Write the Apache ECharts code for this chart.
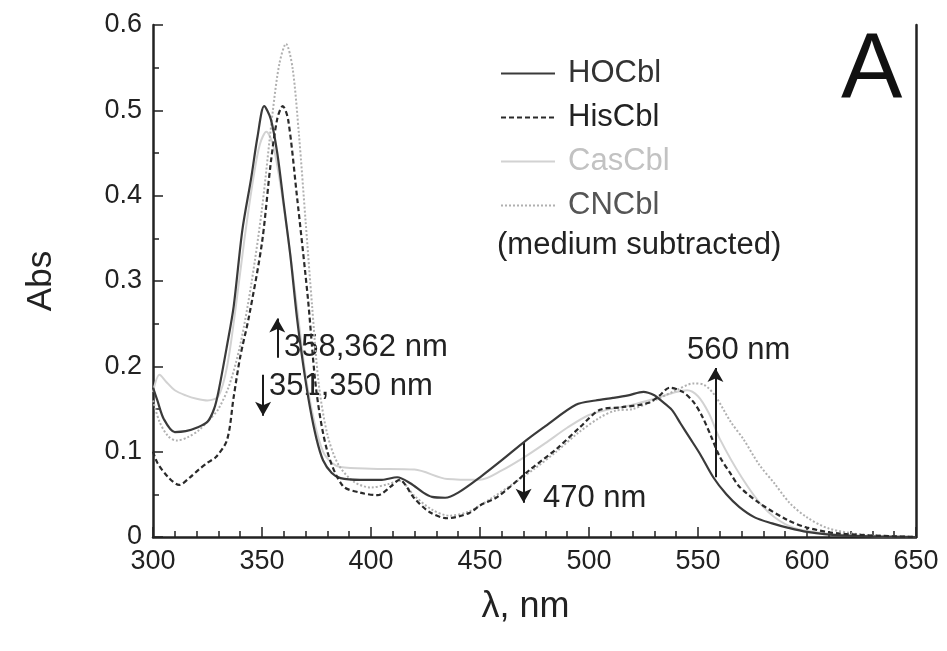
<!DOCTYPE html>
<html>
<head>
<meta charset="utf-8">
<script src="https://cdn.jsdelivr.net/npm/echarts@6/dist/echarts.min.js"></script>
<style>
  html, body { margin: 0; padding: 0; background: #fff; }
  #chart { width: 947px; height: 651px; }
</style>
</head>
<body>
<div id="chart"></div>
<script>
// wavelength (nm) / absorbance pairs
const hoWl  = [300, 302, 305, 310, 315, 320, 325, 328, 330, 334, 337, 341, 345, 348, 351, 354, 357, 360, 363, 366, 369, 372, 375, 378, 382, 386, 395, 405, 412, 418, 424, 428, 434, 440, 450, 460, 471, 480, 494, 503, 511, 518, 525, 530, 533, 538, 542, 546, 551, 557, 563, 569, 576, 584, 591, 600, 615, 650];
const hoAbs = [0.175, 0.16, 0.138, 0.123, 0.124, 0.128, 0.135, 0.15, 0.17, 0.225, 0.27, 0.36, 0.42, 0.47, 0.505, 0.49, 0.45, 0.39, 0.33, 0.258, 0.2, 0.152, 0.115, 0.09, 0.075, 0.069, 0.067, 0.067, 0.07, 0.063, 0.052, 0.047, 0.046, 0.052, 0.07, 0.09, 0.113, 0.13, 0.155, 0.16, 0.163, 0.166, 0.17, 0.166, 0.16, 0.149, 0.133, 0.117, 0.097, 0.07, 0.05, 0.035, 0.023, 0.016, 0.011, 0.006, 0.002, 0];

const hisWl  = [300, 302, 307, 312, 317, 321, 325, 329, 334, 337, 340, 344, 350, 354, 357, 359.5, 362, 366, 371, 375, 380, 387, 395, 403, 409, 413, 420, 427, 435, 445, 450, 458, 473, 485, 496, 505, 515, 527, 532, 537, 543, 548, 552, 556, 560, 565, 569, 578, 591, 600, 615, 650];
const hisAbs = [0.1, 0.087, 0.07, 0.061, 0.07, 0.079, 0.087, 0.094, 0.114, 0.164, 0.211, 0.258, 0.345, 0.438, 0.49, 0.505, 0.489, 0.4, 0.281, 0.17, 0.1, 0.06, 0.052, 0.049, 0.059, 0.067, 0.045, 0.029, 0.022, 0.028, 0.037, 0.047, 0.079, 0.103, 0.129, 0.149, 0.152, 0.157, 0.165, 0.175, 0.17, 0.158, 0.141, 0.118, 0.094, 0.074, 0.059, 0.04, 0.02, 0.011, 0.004, 0];

const casWl  = [300, 303, 306, 310, 315, 320, 325, 330, 334, 338, 342, 346, 349, 352, 355, 358, 362, 366, 370, 374, 378, 382, 386, 400, 420, 435, 450, 460, 470, 480, 490, 500, 510, 520, 530, 540, 545, 550, 555, 560, 570, 580, 590, 600, 620, 650];
const casAbs = [0.17, 0.19, 0.182, 0.172, 0.166, 0.162, 0.16, 0.165, 0.2, 0.27, 0.35, 0.42, 0.46, 0.475, 0.46, 0.42, 0.35, 0.27, 0.19, 0.135, 0.1, 0.087, 0.082, 0.08, 0.079, 0.068, 0.067, 0.078, 0.093, 0.11, 0.128, 0.143, 0.15, 0.155, 0.162, 0.17, 0.172, 0.165, 0.145, 0.115, 0.07, 0.035, 0.015, 0.007, 0.002, 0];

const cnWl  = [300, 303, 307, 311, 316, 321, 326, 330, 335, 340, 345, 350, 355, 358, 361, 364, 367, 370, 373, 376, 380, 385, 392, 400, 408, 413, 420, 428, 436, 445, 455, 465, 475, 485, 495, 505, 512, 520, 530, 540, 548, 553, 558, 565, 571, 578, 585, 592, 600, 610, 625, 650];
const cnAbs = [0.16, 0.135, 0.118, 0.113, 0.117, 0.125, 0.138, 0.15, 0.178, 0.225, 0.295, 0.385, 0.5, 0.555, 0.578, 0.55, 0.47, 0.37, 0.27, 0.18, 0.12, 0.085, 0.065, 0.058, 0.062, 0.066, 0.048, 0.032, 0.025, 0.03, 0.045, 0.062, 0.08, 0.1, 0.122, 0.14, 0.148, 0.15, 0.16, 0.172, 0.18, 0.178, 0.165, 0.135, 0.114, 0.085, 0.063, 0.04, 0.023, 0.01, 0.003, 0];

const seriesNames = ['HOCbl', 'HisCbl', 'CasCbl', 'CNCbl'];
const legendColors = ['#333', '#222', '#c2c2c2', '#555'];

// arrows: [wavelength, from abs, to abs]
const arrows = [
  [357, 0.21, 0.256],
  [350.5, 0.19, 0.142],
  [470, 0.111, 0.04],
  [558, 0.07, 0.198]
];

// annotation texts: [text, left px, centre px]
const notes = [
  ['358,362 nm', 284, 347],
  ['351,350 nm', 269, 386],
  ['470 nm', 543, 498],
  ['560 nm', 687, 350]
];

const pairs = (wl, abs) => wl.map((w, i) => [w, abs[i]]);

const chart = echarts.init(document.getElementById('chart'));
const font = 'Liberation Sans, Arial, sans-serif';

const option = {
  animation: false,
  backgroundColor: '#fff',
  textStyle: { fontFamily: font },
  grid: { left: 153, right: 31, top: 25, bottom: 114 },
  legend: {
    data: seriesNames.map((n, i) => ({ name: n, textStyle: { color: legendColors[i] } })),
    orient: 'vertical',
    left: 500,
    top: 58,
    padding: 0,
    itemWidth: 54,
    itemHeight: 14,
    itemGap: 13,
    itemStyle: { opacity: 0 },
    textStyle: { fontSize: 31, lineHeight: 30, fontFamily: font, padding: [0, 0, 0, 8] },
    selectedMode: false
  },
  xAxis: {
    type: 'value',
    min: 300,
    max: 650,
    interval: 50,
    name: 'λ, nm',
    nameLocation: 'middle',
    nameGap: 52,
    nameTextStyle: { fontSize: 36, color: '#222', fontFamily: font, padding: [0, 18, 0, 0] },
    axisLine: { lineStyle: { color: '#222', width: 2.5 } },
    axisTick: { inside: true, length: 10, lineStyle: { color: '#222', width: 1.5 } },
    minorTick: { show: true, splitNumber: 5, length: 6, lineStyle: { color: '#222', width: 1.5 } },
    axisLabel: { fontSize: 27, color: '#222', margin: 11 },
    splitLine: { show: false }
  },
  yAxis: [{
    type: 'value',
    min: 0,
    max: 0.6,
    interval: 0.1,
    name: 'Abs',
    nameLocation: 'middle',
    nameGap: 94,
    nameTextStyle: { fontSize: 35, color: '#222', fontFamily: font },
    axisLine: { show: true, lineStyle: { color: '#222', width: 2.5 } },
    axisTick: { inside: true, length: 10, lineStyle: { color: '#222', width: 1.5 } },
    minorTick: { show: true, splitNumber: 2, length: 6, lineStyle: { color: '#222', width: 1.5 } },
    axisLabel: {
      fontSize: 27, color: '#222', margin: 11,
      formatter: v => v === 0 ? '0' : v.toFixed(1)
    },
    splitLine: { show: false }
  }, {
    type: 'value',
    min: 0,
    max: 0.6,
    position: 'right',
    axisLine: { show: true, lineStyle: { color: '#222', width: 2.5 } },
    axisTick: { show: false },
    axisLabel: { show: false },
    splitLine: { show: false }
  }],
  series: [
    {
      name: 'HOCbl', type: 'line', showSymbol: false, symbol: 'none', smooth: 0.3, z: 5,
      data: pairs(hoWl, hoAbs),
      lineStyle: { color: '#3a3a3a', width: 2.2 }, itemStyle: { color: '#3a3a3a' }
    },
    {
      name: 'HisCbl', type: 'line', showSymbol: false, symbol: 'none', smooth: 0.3, z: 5,
      data: pairs(hisWl, hisAbs),
      lineStyle: { color: '#2a2a2a', width: 2.2, type: [5, 3] }, itemStyle: { color: '#2a2a2a' }
    },
    {
      name: 'CasCbl', type: 'line', showSymbol: false, symbol: 'none', smooth: 0.3, z: 3,
      data: pairs(casWl, casAbs),
      lineStyle: { color: '#d2d2d2', width: 2 }, itemStyle: { color: '#d2d2d2' }
    },
    {
      name: 'CNCbl', type: 'line', showSymbol: false, symbol: 'none', smooth: 0.3, z: 4,
      data: pairs(cnWl, cnAbs),
      lineStyle: { color: '#b0b0b0', width: 2, type: [2, 2] }, itemStyle: { color: '#b0b0b0' }
    },
    {
      name: 'arrows', type: 'line', data: [], silent: true, z: 6,
      markLine: {
        silent: true,
        symbol: ['none', 'arrow'],
        symbolSize: [12, 14],
        label: { show: false },
        lineStyle: { color: '#1a1a1a', width: 2, type: 'solid' },
        data: arrows.map(a => [{ coord: [a[0], a[1]] }, { coord: [a[0], a[2]] }])
      }
    }
  ],
  graphic: [
    { type: 'text', x: 497, y: 245, style: { text: '(medium subtracted)', fontSize: 31, fill: '#222', fontFamily: font, verticalAlign: 'middle' } },
    { type: 'text', x: 841, y: 73, style: { text: 'A', fontSize: 92, fill: '#111', fontFamily: font, verticalAlign: 'middle' } }
  ].concat(notes.map(n => ({
    type: 'text', x: n[1], y: n[2],
    style: { text: n[0], fontSize: 31, fill: '#222', fontFamily: font, verticalAlign: 'middle' }
  })))
};

chart.setOption(option);
</script>
</body>
</html>
